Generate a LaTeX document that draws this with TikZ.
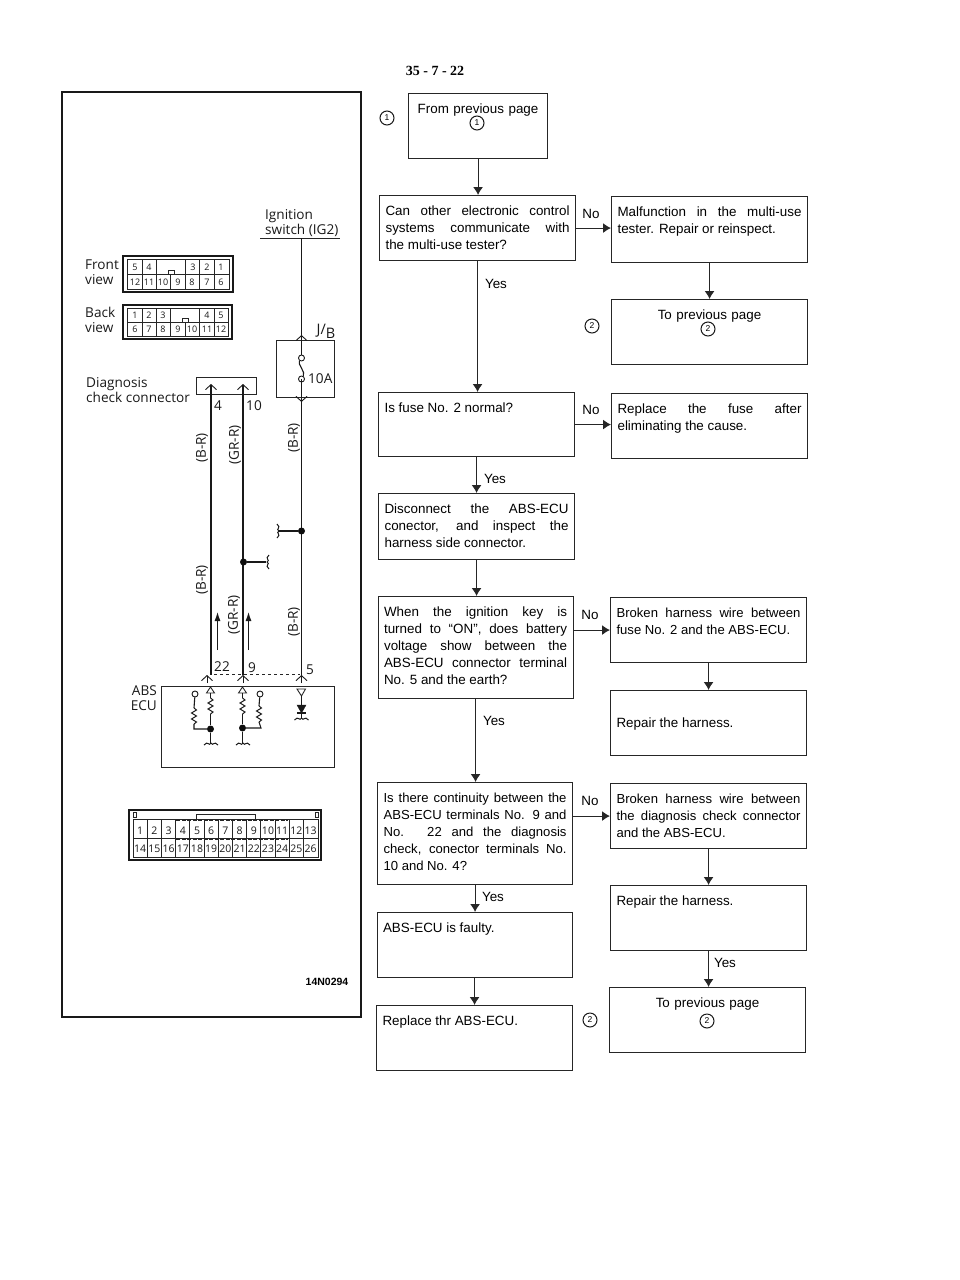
\documentclass[tikz,border=0pt]{standalone}
\usepackage{fontspec}
\setmainfont{Liberation Sans}
\newfontfamily\wirefont{Open Sans}
\newfontfamily\pagefont{Liberation Serif}
\usetikzlibrary{arrows.meta,positioning,calc}
\tikzset{
  proc/.style={rectangle, draw=black!85, line width=1.1pt, anchor=north west,
    align=justify, inner xsep=6pt, inner ysep=9pt, text width=184pt,
    text height=11pt, text depth=36pt,
    font=\fontsize{13.4}{17}\selectfont},
  ctrproc/.style={proc, align=center},
  tight/.style={font=\fontsize{13.1}{17}\selectfont},
  annot/.style={font=\fontsize{13.4}{15}\selectfont, inner sep=0pt},
  numc/.style={circle, draw=black!90, line width=1pt, inner sep=0pt, minimum size=14pt,
    font=\fontsize{8.5}{9}\selectfont},
  flow/.style={-{Latex[length=8pt,width=10pt]}, line width=1.1pt, draw=black!85},
  wire/.style={line width=1.1pt, draw=black!90},
  thin/.style={line width=0.9pt, draw=black!85},
  wtext/.style={font=\wirefont\fontsize{13.6}{14}\selectfont, inner sep=0pt, align=left, text=black!90},
  colr/.style={wtext, rotate=90},
  pin/.style={font=\wirefont\fontsize{9}{9}\selectfont, inner sep=0pt, text=black!90},
  bpin/.style={font=\wirefont\fontsize{10.5}{10}\selectfont, inner sep=0pt, text=black!90},
  dot/.style={circle, fill=black!95, inner sep=0pt, minimum size=7pt},
  term/.style={circle, draw=black!90, line width=0.9pt, inner sep=0pt, minimum size=6pt},
  chev/.style={-{Straight Barb[length=5pt,width=11pt]}, line width=0.9pt, draw=black!90},
  updir/.style={-{Latex[length=9pt,width=6pt]}, line width=1pt, draw=black!90},
  squig/.pic={\draw[line width=1pt, draw=black!90] (-7,2) .. controls (-3,-3) and (-2,4) .. (0,0) .. controls (2,4) and (3,-3) .. (7,2);},
  vsquig/.pic={\draw[line width=1pt, draw=black!90] (-2,-7) .. controls (3,-3) and (-4,-2) .. (0,0) .. controls (-4,2) and (3,3) .. (-2,7);},
  rzig/.pic={\draw[line width=1pt, draw=black!90] (0,-8) -- (2.5,-6) -- (-2.5,-3) -- (2.5,0) -- (-2.5,3) -- (2.5,6) -- (0,8);},
}
\begin{document}
\begin{tikzpicture}[x=1pt,y=-1pt]
  \useasboundingbox (0,0) rectangle (960,1280);
  \node[font=\pagefont\bfseries\fontsize{14}{15}\selectfont, inner sep=0pt] (pageno) at (435,71) {35 - 7 - 22};
  % wiring panel
  \node[draw=black!90, line width=1.6pt, minimum width=299pt, minimum height=925pt, anchor=north west, inner sep=0pt] (panel) at (61,91) {};
  \node[font=\fontsize{10.5}{12}\selectfont\bfseries, inner sep=0pt] (code) at (327,982) {14N0294};
  % front and back view of the check connector
  \node[wtext, anchor=west, font=\wirefont\fontsize{13.6}{15}\selectfont] (frontlbl) at (85,272) {Front\\view};
  \node[wtext, anchor=west, font=\wirefont\fontsize{13.6}{15}\selectfont] (backlbl) at (85,320) {Back\\view};
  \draw[line width=1.6pt, draw=black!90] (123,256) rectangle (233,292);
  \draw[line width=1.6pt, draw=black!90] (123,305) rectangle (232,339);
  \draw[thin] (127,259) rectangle (229,289);
  \draw[thin] (127,308) rectangle (228,336);
  \draw[thin] (127,274) -- (229,274);
  \draw[thin] (127,322) -- (228,322);
  \foreach \x in {142,156,170,185,199,214} {
    \draw[thin] (\x,274) -- (\x,289);
    \draw[thin] (\x,322) -- (\x,336);
  }
  \foreach \x in {142,156,185,199,214} \draw[thin] (\x,259) -- (\x,274);
  \foreach \x in {142,156,170,199,214} \draw[thin] (\x,308) -- (\x,322);
  \draw[thin, fill=white] (168,270) rectangle (174,274);
  \draw[thin, fill=white] (182,318) rectangle (188,322);
  \foreach \t/\x in {5/135,4/149,3/193,2/207,1/221}
    \node[pin] (ft\t) at (\x,267) {\t};
  \foreach \t/\x in {12/135,11/149,10/163,9/178,8/192,7/207,6/221}
    \node[pin] (fb\t) at (\x,282) {\t};
  \foreach \t/\x in {1/135,2/149,3/163,4/207,5/221}
    \node[pin] (bt\t) at (\x,315) {\t};
  \foreach \t/\x in {6/135,7/149,8/163,9/178,10/192,11/207,12/221}
    \node[pin] (bb\t) at (\x,329) {\t};
  % ignition feed and junction block
  \node[wtext, anchor=west] (ign) at (265,216) {Ignition};
  \node[wtext, anchor=west] (sw) at (265,230) {switch (IG2)};
  \coordinate (swl) at (260,238);
  \coordinate (swr) at (340,238);
  \coordinate (swm) at (301.5,238);
  \draw[thin] (swl) -- (swr);
  \node[thin, draw, minimum width=58pt, minimum height=57pt, inner sep=0pt, anchor=north west] (jb) at (276,340) {};
  \node[wtext, font=\wirefont\fontsize{14.5}{15}\selectfont] (jbl) at (326,331) {J/\raisebox{-4pt}{B}};
  \node[wtext, anchor=west] (amp) at (308,379) {10A};
  \node[term] (fus1) at (301.5,358) {};
  \node[term] (fus2) at (301.5,379) {};
  \draw[wire] (fus1) .. controls (297,364) and (306,372) .. (fus2);
  \draw[wire] (swm) -- (fus1);
  \draw[chev] (301.5,342) -- (301.5,335);
  \draw[chev] (301.5,395) -- (301.5,402);
  % check connector
  \node[wtext, anchor=west, font=\wirefont\fontsize{13.6}{14.5}\selectfont] (diag) at (86,390) {Diagnosis\\check connector};
  \node[thin, draw, minimum width=60pt, minimum height=17pt, inner sep=0pt, anchor=north west] (dlc) at (196,377) {};
  \node[wtext] (p4) at (218,406) {4};
  \node[wtext] (p10) at (254,406) {10};
  \draw[chev] (211,392) -- (211,384);
  \draw[chev] (243,392) -- (243,384);
  % ABS-ECU
  \node[thin, draw, minimum width=173pt, minimum height=81pt, inner sep=0pt, anchor=north west] (ecu) at (161,686) {};
  \node[wtext, align=right, anchor=east, font=\wirefont\fontsize{13.6}{15}\selectfont] (ecul) at (157,698) {ABS\\ECU};
  \coordinate (w1t) at (211,385);
  \coordinate (w2t) at (243,385);
  \coordinate (w3t) at (301.5,379);
  \coordinate (w1b) at (211,675);
  \coordinate (w2b) at (243,675);
  \coordinate (w3b) at (301.5,675);
  \draw[wire] (w1t) -- (w1b);
  \draw[wire] (w2t) -- (w2b);
  \draw[wire] (w3t) -- (w3b);
  \node[dot] (j3) at (301.5,531) {};
  \node[dot] (j2) at (243.5,562) {};
  \draw[wire] (j3) -- (279,531);
  \draw[wire] (j2) -- (266,562);
  \path (279,531) pic {vsquig};
  \path (267,562) pic[xscale=-1] {vsquig};
  \node[colr] (c1) at (202,448) {(B-R)};
  \node[colr] (c2) at (235,445) {(GR-R)};
  \node[colr] (c3) at (294,438) {(B-R)};
  \node[colr] (c4) at (202,580) {(B-R)};
  \node[colr] (c5) at (234,615) {(GR-R)};
  \node[colr] (c6) at (294,622) {(B-R)};
  \draw[updir] (217.5,650) -- (217.5,612);
  \draw[updir] (248.5,650) -- (248.5,612);
  \node[wtext] (p22) at (222,667) {22};
  \node[wtext] (p9) at (252,668) {9};
  \node[wtext] (p5) at (310,670) {5};
  \draw[thin, dashed] (214,674.5) -- (300,674.5);
  \foreach \x in {207,243,301.5} \draw[chev] (\x,683) -- (\x,675);
  % inside the ECU
  \draw[thin] (206.5,693) -- (210.5,687) -- (214.5,693) -- cycle;
  \draw[thin] (238.5,693) -- (242.5,687) -- (246.5,693) -- cycle;
  \draw[thin] (297,689) -- (305.5,689) -- (301.5,696) -- cycle;
  \node[term] (t1) at (195,694) {};
  \node[term] (t2) at (260,694) {};
  \node[dot] (j4) at (210.5,729) {};
  \node[dot] (j5) at (242.5,728) {};
  \draw[wire] (210.5,693) -- (210.5,698) (210.5,714) -- (j4);
  \draw[wire] (242.5,693) -- (242.5,698) (242.5,714) -- (j5);
  \path (210.5,706) pic {rzig} (242.5,706) pic {rzig} (194,716) pic {rzig} (259,714) pic {rzig};
  \draw[wire] (t1) -- (194,708) (194,724) -- (194,729) -- (j4);
  \draw[wire] (t2) -- (259,706) (259,722) -- (261,728) -- (j5);
  \draw[wire] (j4) -- (210.5,743);
  \draw[wire] (j5) -- (242.5,743);
  \path (211,743) pic {squig} (243,743) pic {squig} (301.5,718) pic {squig};
  \draw[black!90, fill=black!90] (297,705) -- (306,705) -- (301.5,713) -- cycle;
  \draw[wire] (301.5,696) -- (301.5,718);
  \draw[wire] (297,713) -- (306,713);
  % ABS-ECU connector
  \draw[line width=1.6pt, draw=black!90] (129,810) rectangle (321,860);
  \draw[thin] (133,819) rectangle (318,857);
  \draw[thin] (133,838) -- (318,838);
  \draw[thin] (196,819) -- (196,814) -- (255,814) -- (255,819);
  \draw[thin] (133,812) rectangle (136,817);
  \draw[thin] (315,812) rectangle (318,817);
  \foreach \n in {1,...,12} {
    \pgfmathsetmacro{\xc}{133+14.2*\n}
    \draw[thin] (\xc,819) -- (\xc,857);
  }
  \draw[line width=2.2pt, draw=black!85, dash pattern=on 4pt off 1.5pt] (176,820) -- (288,820);
  \draw[line width=2.2pt, draw=black!85, dash pattern=on 4pt off 1.5pt] (176,839) -- (288,839);
  \foreach \n in {1,...,13} {
    \pgfmathsetmacro{\xc}{126+14.2*\n}
    \pgfmathtruncatemacro{\nb}{\n+13}
    \node[bpin] (et\n) at (\xc,831) {\n};
    \node[bpin] (eb\nb) at (\xc,849) {\nb};
  }
  % flow chart, left column
  \node[ctrproc, text width=127pt] (from) at (408,93) {From previous page};
  \node[numc] (n1a) at (477,123) {1};
  \node[numc] (n1b) at (387,118) {1};
  \node[proc] (can) at (379,195) {Can other electronic control\linebreak systems communicate with\linebreak the multi-use tester?};
  \node[proc, text depth=35pt] (fuse) at (378,392) {Is fuse No. 2 normal?};
  \node[proc, text depth=37pt] (disc) at (378,493) {Disconnect the ABS-ECU\linebreak conector, and inspect the\linebreak harness side connector.};
  \node[proc, text width=183pt, text depth=73pt] (key) at (377.5,596) {When the ignition key is\linebreak turned to ``ON'', does battery\linebreak voltage show between the\linebreak ABS-ECU connector terminal\linebreak No. 5 and the earth?};
  \node[proc, tight, text width=183pt, text depth=73pt] (cont) at (377,782) {Is there continuity between the\linebreak ABS-ECU terminals No. 9 and\linebreak No. 22 and the diagnosis\linebreak check, conector terminals No.\linebreak 10 and No. 4?};
  \node[proc, text width=183pt] (faulty) at (376.5,912) {ABS-ECU is faulty.};
  \node[proc, text width=184pt] (repl) at (376,1005) {Replace thr ABS-ECU.};
  % flow chart, right column
  \node[proc, text depth=37pt] (mal) at (611,196) {Malfunction in the multi-use\linebreak tester. Repair or reinspect.};
  \node[ctrproc] (to1) at (611,299) {To previous page};
  \node[numc] (n2a) at (708,329) {2};
  \node[numc] (n2b) at (592,326) {2};
  \node[proc] (rfuse) at (611,393) {Replace the fuse after\linebreak eliminating the cause.};
  \node[proc, tight, text width=184pt] (brk1) at (610,597) {Broken harness wire between\linebreak fuse No. 2 and the ABS-ECU.};
  \node[proc, text width=184pt, text height=28pt, text depth=19pt] (rep1) at (610,690) {Repair the harness.};
  \node[proc, tight, text width=184pt] (brk2) at (610,783) {Broken harness wire between\linebreak the diagnosis check connector\linebreak and the ABS-ECU.};
  \node[proc, text width=184pt] (rep2) at (610,885) {Repair the harness.};
  \node[ctrproc, text width=184pt] (to2) at (609,987) {To previous page};
  \node[numc] (n2c) at (707,1021) {2};
  \node[numc] (n2d) at (590,1020) {2};
  % connectors
  \draw[flow] (from.south) -- (from.south |- can.north);
  \draw[flow] (can.south) -- (can.south |- fuse.north);
  \draw[flow] (fuse.south) -- (fuse.south |- disc.north);
  \draw[flow] (disc.south) -- (disc.south |- key.north);
  \draw[flow] (key.south) -- (key.south |- cont.north);
  \draw[flow] (cont.south) -- (cont.south |- faulty.north);
  \draw[flow] (faulty.south) -- (faulty.south |- repl.north);
  \draw[flow] (can.east) -- (can.east -| mal.west);
  \draw[flow] (fuse.east) -- (fuse.east -| rfuse.west);
  \draw[flow] (key.east |- brk1.west) -- (brk1.west);
  \draw[flow] (cont.east |- brk2.west) -- (brk2.west);
  \draw[flow] (mal.south) -- (mal.south |- to1.north);
  \draw[flow] (brk1.south) -- (brk1.south |- rep1.north);
  \draw[flow] (brk2.south) -- (brk2.south |- rep2.north);
  \draw[flow] (rep2.south) -- (rep2.south |- to2.north);
  \node[annot] (no1) at (591,214) {No};
  \node[annot] (no2) at (591,410) {No};
  \node[annot] (no3) at (590,615) {No};
  \node[annot] (no4) at (590,801) {No};
  \node[annot] (yes1) at (496,284) {Yes};
  \node[annot] (yes2) at (495,479) {Yes};
  \node[annot] (yes3) at (494,721) {Yes};
  \node[annot] (yes4) at (493,897) {Yes};
  \node[annot] (yes5) at (725,963) {Yes};
\end{tikzpicture}
\end{document}
